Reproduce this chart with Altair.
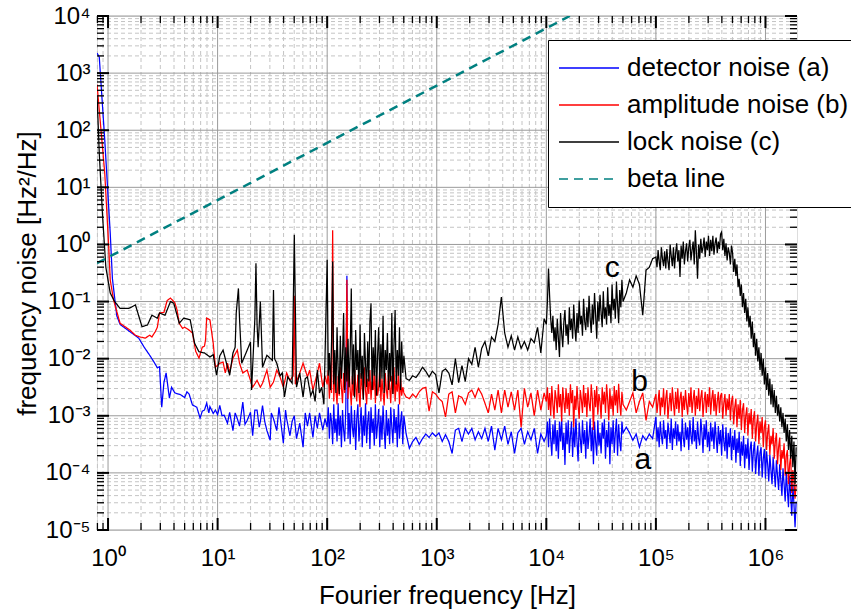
import json
import altair as alt
import pandas as pd

W, H = 700, 514
FONT = "Liberation Sans"

NAMES = ["detector noise (a)", "amplitude noise (b)", "lock noise (c)", "beta line"]
COLORS = ["#0000ff", "#ff0000", "#000000", "#008080"]
DASHES = [[1, 0], [1, 0], [1, 0], [9, 6]]

# ---------------- frequency grids (log10 of Hz) ----------------
grid_100_500 = [2.00, 2.01, 2.02, 2.03, 2.04, 2.05, 2.06, 2.07, 2.08, 2.09,
                2.10, 2.11, 2.12, 2.13, 2.14, 2.15, 2.16, 2.17, 2.18, 2.19,
                2.20, 2.21, 2.22, 2.23, 2.24, 2.25, 2.26, 2.27, 2.28, 2.29,
                2.30, 2.31, 2.32, 2.33, 2.34, 2.35, 2.36, 2.37, 2.38, 2.39,
                2.40, 2.41, 2.42, 2.43, 2.44, 2.45, 2.46, 2.47, 2.48, 2.49,
                2.50, 2.51, 2.52, 2.53, 2.54, 2.55, 2.56, 2.57, 2.58, 2.59,
                2.60, 2.61, 2.62, 2.63, 2.64, 2.65, 2.66, 2.67, 2.68, 2.69, 2.70]
grid_500_10k = [2.72, 2.75, 2.78, 2.81, 2.84, 2.87, 2.90, 2.93, 2.96, 2.99, 3.02, 3.05, 3.08, 3.11, 3.14, 3.17, 3.20, 3.23,
                3.26, 3.29, 3.32, 3.35, 3.38, 3.41, 3.44, 3.47, 3.50, 3.53, 3.56, 3.59, 3.62, 3.65, 3.68, 3.71, 3.74, 3.77,
                3.80, 3.83, 3.86, 3.89, 3.92, 3.95, 3.98]
grid_10k_50k = [4.00, 4.01, 4.02, 4.03, 4.04, 4.05, 4.06, 4.07, 4.08, 4.09,
                4.10, 4.11, 4.12, 4.13, 4.14, 4.15, 4.16, 4.17, 4.18, 4.19,
                4.20, 4.21, 4.22, 4.23, 4.24, 4.25, 4.26, 4.27, 4.28, 4.29,
                4.30, 4.31, 4.32, 4.33, 4.34, 4.35, 4.36, 4.37, 4.38, 4.39,
                4.40, 4.41, 4.42, 4.43, 4.44, 4.45, 4.46, 4.47, 4.48, 4.49,
                4.50, 4.51, 4.52, 4.53, 4.54, 4.55, 4.56, 4.57, 4.58, 4.59,
                4.60, 4.61, 4.62, 4.63, 4.64, 4.65, 4.66, 4.67, 4.68, 4.69, 4.70]
grid_50k_100k = [4.73, 4.76, 4.79, 4.82, 4.85, 4.88, 4.91, 4.94, 4.97]
grid_100k_2M = [5.00, 5.01, 5.02, 5.03, 5.04, 5.05, 5.06, 5.07, 5.08, 5.09,
                5.10, 5.11, 5.12, 5.13, 5.14, 5.15, 5.16, 5.17, 5.18, 5.19,
                5.20, 5.21, 5.22, 5.23, 5.24, 5.25, 5.26, 5.27, 5.28, 5.29,
                5.30, 5.31, 5.32, 5.33, 5.34, 5.35, 5.36, 5.37, 5.38, 5.39,
                5.40, 5.41, 5.42, 5.43, 5.44, 5.45, 5.46, 5.47, 5.48, 5.49,
                5.50, 5.51, 5.52, 5.53, 5.54, 5.55, 5.56, 5.57, 5.58, 5.59,
                5.60, 5.61, 5.62, 5.63, 5.64, 5.65, 5.66, 5.67, 5.68, 5.69,
                5.70, 5.71, 5.72, 5.73, 5.74, 5.75, 5.76, 5.77, 5.78, 5.79,
                5.80, 5.81, 5.82, 5.83, 5.84, 5.85, 5.86, 5.87, 5.88, 5.89,
                5.90, 5.91, 5.92, 5.93, 5.94, 5.95, 5.96, 5.97, 5.98, 5.99,
                6.00, 6.01, 6.02, 6.03, 6.04, 6.05, 6.06, 6.07, 6.08, 6.09,
                6.10, 6.11, 6.12, 6.13, 6.14, 6.15, 6.16, 6.17, 6.18, 6.19,
                6.20, 6.21, 6.22, 6.23, 6.24, 6.25, 6.26, 6.27, 6.28]

# ---------------- detector noise (a), log10 of Hz^2/Hz ----------------
a_low_f = [-0.10, -0.08, -0.03, 0.02, 0.04, 0.08, 0.11, 0.18, 0.28, 0.33, 0.38, 0.42, 0.45, 0.47, 0.49, 0.51, 0.53, 0.56,
           0.58, 0.61, 0.66, 0.70, 0.72, 0.74, 0.77, 0.81, 0.84, 0.86, 0.88, 0.90, 0.92, 0.93, 0.96, 0.98, 1.00, 1.02,
           1.04, 1.06, 1.09, 1.11, 1.14, 1.16, 1.18, 1.20, 1.23, 1.25, 1.27, 1.30, 1.32, 1.34, 1.36, 1.38, 1.39, 1.41,
           1.43, 1.45, 1.48, 1.49, 1.51, 1.54, 1.56, 1.57, 1.60, 1.62, 1.63, 1.66, 1.68, 1.70, 1.72, 1.75, 1.78, 1.80,
           1.82, 1.84, 1.87, 1.89, 1.91, 1.93, 1.96, 1.98]
a_low_v = [3.35, 3.28, 1.83, 0.20, -0.60, -1.25, -1.40, -1.50, -1.64, -1.80, -1.94, -2.06, -2.16, -2.14, -2.85, -2.42,
           -2.25, -2.69, -2.50, -2.60, -2.63, -2.68, -2.58, -2.62, -2.81, -2.85, -3.04, -2.92, -2.90, -2.78, -2.95, -2.84,
           -2.96, -2.90, -2.98, -2.82, -3.00, -2.99, -3.13, -2.94, -3.26, -2.95, -3.05, -3.18, -2.76, -3.15, -3.08, -2.94,
           -3.35, -2.90, -2.90, -3.20, -3.10, -2.82, -3.10, -3.26, -3.43, -2.95, -3.05, -3.26, -2.85, -3.00, -3.48, -2.90,
           -3.05, -3.35, -3.10, -3.00, -3.40, -3.13, -3.55, -2.95, -3.18, -2.95, -3.38, -3.00, -3.22, -2.95, -3.25, -3.05]
a_100_500 = [-3.20, -2.85, -3.40, -2.95, -3.10, -3.50, -2.80, -3.30, -3.05, -3.45,
             -2.78, -3.35, -3.00, -3.55, -2.90, -3.25, -3.45, -2.85, -0.55, -3.40,
             -2.95, -3.50, -2.82, -3.20, -3.38, -2.90, -3.60, -3.05, -2.80, -3.45,
             -3.15, -2.85, -3.55, -3.00, -3.35, -2.78, -3.48, -3.10, -2.92, -3.58,
             -2.85, -3.30, -3.05, -3.52, -2.80, -3.40, -3.15, -2.88, -3.55, -3.00,
             -3.42, -2.82, -3.25, -3.58, -2.90, -3.35, -3.05, -3.50, -2.85, -3.20,
             -3.48, -2.88, -3.30, -3.02, -3.55, -2.80, -3.40, -3.10, -2.92, -3.50, -3.00]
a_500_10k = [-3.31, -3.57, -3.45, -3.38, -3.50, -3.40, -3.32, -3.38, -3.30, -3.36, -3.30, -3.45, -3.33, -3.45, -3.66,
             -3.25, -3.22, -3.45, -3.22, -3.32, -3.22, -3.42, -3.28, -3.40, -3.22, -3.45, -3.18, -3.60, -3.22, -3.42,
             -3.18, -3.50, -3.28, -3.66, -3.30, -3.22, -3.50, -3.28, -3.42, -3.22, -3.66, -3.32, -3.45]
a_10k_50k = [-3.35, -3.10, -3.55, -3.05, -3.40, -3.70, -3.15, -3.50, -3.08, -3.62,
             -3.25, -3.75, -3.10, -3.45, -3.05, -3.60, -3.30, -3.86, -3.12, -3.50,
             -3.08, -3.65, -3.35, -3.10, -3.72, -3.20, -3.55, -3.05, -3.45, -3.80,
             -3.12, -3.40, -3.65, -3.08, -3.50, -3.25, -3.75, -3.10, -3.58, -3.35,
             -3.05, -3.62, -3.20, -3.85, -3.10, -3.45, -3.70, -3.08, -3.52, -3.30,
             -3.66, -3.12, -3.40, -3.06, -3.75, -3.25, -3.55, -3.10, -3.85, -3.20,
             -3.50, -3.08, -3.65, -3.30, -3.05, -3.70, -3.15, -3.45, -3.62, -3.10, -3.30]
a_50k_100k = [-3.20, -3.30, -3.43, -3.32, -3.55, -3.35, -3.43, -3.32, -3.40]
a_100k_2M = [-3.02, -3.45, -3.20, -3.55, -3.10, -3.35, -3.50, -3.08, -3.40, -3.25,
             -3.58, -3.12, -3.30, -3.48, -3.05, -3.60, -3.22, -3.40, -3.10, -3.52,
             -3.15, -3.45, -3.28, -3.62, -3.05, -3.38, -3.55, -3.12, -3.42, -3.20,
             -3.60, -3.08, -3.35, -3.50, -3.02, -3.45, -3.25, -3.58, -3.10, -3.40,
             -3.52, -3.05, -3.30, -3.65, -3.15, -3.42, -3.08, -3.55, -3.28, -3.62,
             -3.12, -3.45, -3.20, -3.58, -3.10, -3.38, -3.65, -3.18, -3.50, -3.25,
             -3.70, -3.15, -3.45, -3.62, -3.20, -3.75, -3.30, -3.55, -3.22, -3.78,
             -3.35, -3.60, -3.25, -3.82, -3.40, -3.65, -3.28, -3.88, -3.45, -3.70,
             -3.35, -3.92, -3.50, -3.75, -3.40, -3.95, -3.58, -3.45, -3.98, -3.62,
             -3.45, -4.02, -3.70, -3.52, -4.05, -3.65, -3.55, -4.08, -3.75, -3.58,
             -4.10, -3.62, -3.85, -4.15, -3.68, -3.95, -4.20, -3.72, -4.00, -4.25,
             -3.78, -4.05, -4.30, -3.85, -4.12, -4.40, -3.92, -4.20, -4.50, -3.98,
             -4.30, -4.60, -4.05, -4.40, -4.75, -4.20, -4.55, -4.95, -4.50]

# ---------------- amplitude noise (b) ----------------
b_low_f = [-0.10, -0.08, -0.03, 0.005, 0.02, 0.05, 0.11, 0.20, 0.25, 0.29, 0.34, 0.38, 0.40, 0.43, 0.45, 0.47, 0.51,
           0.54, 0.57, 0.61, 0.63, 0.65, 0.68, 0.70, 0.74, 0.77, 0.80, 0.83, 0.86, 0.88, 0.89, 0.90, 0.93, 0.96, 0.98,
           1.02, 1.05, 1.07, 1.09, 1.11, 1.14, 1.18, 1.20, 1.23, 1.27, 1.30, 1.32, 1.36, 1.39, 1.41, 1.45, 1.48, 1.51,
           1.54, 1.57, 1.60, 1.63, 1.66, 1.69, 1.70, 1.71, 1.75, 1.78, 1.82, 1.84, 1.87, 1.91, 1.93, 1.96, 1.98]
b_low_v = [2.80, 2.35, 1.25, 0.00, -0.62, -0.97, -1.38, -1.50, -1.59, -1.62, -1.64, -1.59, -1.62, -1.53, -1.45, -1.20,
           -1.19, -0.98, -0.94, -1.02, -1.15, -1.38, -1.47, -1.45, -1.50, -1.55, -1.87, -1.99, -1.80, -1.78, -1.67, -1.29,
           -1.32, -1.73, -2.15, -2.08, -2.06, -2.25, -2.08, -2.24, -1.99, -1.85, -2.08, -2.25, -2.20, -2.38, -2.50, -2.38,
           -2.50, -2.43, -2.20, -2.50, -2.41, -2.20, -2.32, -2.50, -2.25, -2.38, -2.30, -0.90, -2.45, -2.25, -2.08, -2.32,
           -2.20, -2.55, -2.25, -2.08, -2.50, -2.30]
b_100_500 = [-2.45, -2.20, -2.70, -2.35, -2.60, 0.25, -2.75, -2.25, -2.55, -2.80,
             -2.30, -2.65, -2.15, -2.50, -2.78, -2.25, -2.60, -2.40, -0.62, -2.70,
             -2.20, -2.55, -2.82, -2.30, -2.65, -2.18, -2.45, -2.75, -2.28, -2.60,
             -2.85, -2.25, -2.50, -2.70, -2.15, -2.55, -2.80, -2.35, -2.62, -2.20,
             -2.72, -2.40, -2.55, -2.22, -2.78, -2.30, -2.65, -2.50, -2.18, -2.75,
             -2.35, -2.60, -2.82, -2.25, -2.55, -2.70, -2.20, -2.48, -2.78, -2.30,
             -2.62, -2.15, -2.75, -2.40, -2.58, -2.22, -2.80, -2.35, -2.65, -2.50, -2.60]
b_500_10k = [-2.67, -2.70, -2.62, -2.68, -2.58, -2.52, -2.50, -2.92, -2.58, -2.62, -2.70, -2.75, -3.02, -2.62, -2.58,
             -2.95, -2.65, -2.68, -2.80, -2.60, -2.55, -2.68, -2.52, -2.62, -2.78, -2.95, -2.62, -2.90, -2.55, -2.95,
             -2.55, -2.85, -2.58, -2.90, -2.55, -3.20, -2.52, -2.85, -2.60, -3.00, -2.55, -2.90, -2.60]
b_10k_50k = [-2.75, -2.50, -2.90, -2.60, -3.00, -2.48, -2.80, -3.05, -2.55, -2.70,
             -2.95, -2.45, -2.85, -2.62, -3.10, -2.50, -2.75, -2.95, -2.52, -2.88,
             -2.60, -3.00, -2.45, -2.78, -2.55, -3.20, -2.65, -2.90, -2.48, -2.82,
             -3.05, -2.55, -2.72, -2.95, -2.46, -2.85, -2.60, -3.02, -2.50, -2.78,
             -2.92, -2.45, -2.70, -3.25, -2.55, -2.85, -2.48, -2.98, -2.62, -2.75,
             -3.05, -2.50, -2.80, -2.58, -2.95, -2.45, -2.72, -3.08, -2.52, -2.88,
             -2.65, -3.00, -2.48, -2.82, -2.55, -2.95, -2.44, -2.78, -3.00, -2.58, -2.80]
b_50k_100k = [-2.90, -2.75, -2.60, -2.95, -2.75, -2.60, -3.08, -2.75, -2.85]
b_100k_2M = [-2.62, -2.95, -2.75, -2.55, -3.00, -2.68, -2.85, -2.52, -2.98, -2.70,
             -2.55, -3.05, -2.80, -2.60, -2.92, -2.50, -2.78, -3.00, -2.58, -2.88,
             -2.52, -2.95, -2.70, -2.58, -3.02, -2.65, -2.90, -2.55, -2.80, -2.98,
             -2.60, -2.85, -2.50, -2.95, -2.72, -2.55, -3.00, -2.65, -2.88, -2.52,
             -2.92, -2.68, -2.55, -3.02, -2.75, -2.58, -2.95, -2.62, -2.85, -2.50,
             -2.98, -2.70, -2.55, -2.92, -2.62, -3.00, -2.75, -2.58, -2.95, -2.65,
             -2.60, -3.05, -2.78, -2.62, -3.00, -2.70, -2.90, -2.62, -3.08, -2.75,
             -2.65, -3.15, -2.85, -2.70, -3.20, -2.80, -3.05, -2.72, -3.25, -2.90,
             -2.78, -3.30, -3.00, -2.85, -3.35, -2.95, -3.15, -2.88, -3.40, -3.05,
             -2.92, -3.45, -3.15, -2.98, -3.50, -3.10, -3.30, -3.02, -3.55, -3.20,
             -3.08, -3.60, -3.30, -3.15, -3.68, -3.35, -3.50, -3.22, -3.75, -3.45,
             -3.30, -3.85, -3.55, -3.38, -3.95, -3.60, -3.75, -3.48, -4.05, -3.70,
             -3.60, -4.20, -3.85, -3.70, -4.35, -3.95, -4.15, -4.45, -4.20]

# ---------------- lock noise (c) ----------------
c_low_f = [-0.10, -0.08, -0.05, -0.02, 0.02, 0.06, 0.11, 0.19, 0.25, 0.31, 0.36, 0.40, 0.45, 0.47, 0.52, 0.57, 0.60,
           0.65, 0.69, 0.75, 0.79, 0.83, 0.88, 0.93, 0.96, 0.99, 1.02, 1.05, 1.09, 1.11, 1.14, 1.16, 1.17, 1.19, 1.20,
           1.22, 1.27, 1.30, 1.31, 1.34, 1.35, 1.36, 1.37, 1.39, 1.41, 1.45, 1.50, 1.51, 1.52, 1.54, 1.57, 1.59, 1.61,
           1.64, 1.68, 1.70, 1.72, 1.75, 1.78, 1.80, 1.82, 1.85, 1.87, 1.89, 1.91, 1.93, 1.95, 1.97, 1.98]
c_low_v = [2.60, 1.60, 0.50, -0.40, -0.85, -1.00, -1.12, -1.12, -1.06, -1.44, -1.41, -1.24, -1.29, -1.20, -1.24, -1.00,
           -1.03, -1.38, -1.29, -1.32, -1.73, -1.88, -1.90, -1.97, -1.93, -2.29, -1.95, -1.85, -2.15, -2.29, -1.90, -1.80,
           -1.20, -0.77, -1.30, -2.08, -1.85, -1.71, -2.55, -1.30, -0.33, -1.40, -1.80, -1.00, -2.15, -1.94, -2.03, -0.80,
           -2.00, -2.08, -2.30, -2.25, -2.67, -2.32, -2.43, 0.17, -2.50, -2.25, -2.67, -2.35, -2.32, -2.65, -2.55, -2.75,
           -2.20, -2.60, -2.50, -2.80, -2.00]
c_100_500 = [-0.27, -2.30, -1.90, -2.55, -1.70, -0.30, -2.45, -1.85, -2.60, -1.45,
             -2.20, -2.62, -1.60, -2.35, -1.95, -1.20, -2.55, -1.80, -2.40, -1.65,
             -2.50, -1.90, -0.77, -2.45, -1.75, -2.68, -1.50, -2.20, -1.85, -2.60,
             -1.40, -2.35, -1.95, -2.72, -1.55, -2.10, -2.50, -1.70, -2.40, -1.35,
             -1.03, -2.55, -1.80, -2.30, -1.50, -2.65, -1.95, -1.45, -2.50, -1.75,
             -2.35, -1.25, -2.60, -1.85, -2.20, -1.55, -2.55, -1.90, -2.40, -1.20,
             -2.62, -1.75, -1.15, -2.45, -1.85, -2.30, -1.45, -2.55, -1.70, -2.25, -1.95]
c_500_10k = [-2.35, -2.38, -2.30, -2.33, -2.25, -2.15, -2.22, -2.32, -2.22, -2.28, -2.60, -2.22, -2.18, -2.25, -2.46,
             -2.00, -2.42, -2.12, -2.40, -2.00, -2.10, -1.80, -2.15, -1.82, -1.70, -1.95, -1.62, -1.70, -1.40, -0.92,
             -1.55, -1.80, -1.60, -1.85, -1.62, -1.82, -1.70, -1.85, -1.65, -1.72, -1.45, -1.90, -1.30]
c_10k_50k = [-1.40, -1.00, -0.42, -0.90, -1.30, -1.55, -1.25, -1.70, -1.45, -1.85,
             -1.30, -1.65, -1.97, -1.20, -1.55, -1.80, -1.35, -1.15, -1.60, -1.40,
             -1.75, -1.10, -1.50, -1.30, -1.65, -1.05, -1.45, -1.70, -1.20, -1.55,
             -0.98, -1.40, -1.25, -1.60, -0.95, -1.35, -1.50, -1.10, -1.45, -0.90,
             -1.30, -1.55, -1.05, -1.40, -0.85, -1.25, -1.65, -1.00, -1.35, -0.88,
             -1.20, -1.45, -0.82, -1.30, -1.10, -1.40, -0.75, -1.25, -1.05, -1.38,
             -0.70, -1.15, -0.95, -1.30, -0.65, -1.05, -1.38, -0.80, -1.10, -0.62, -1.00]
c_50k_100k = [-0.85, -0.62, -0.75, -0.55, -0.70, -1.24, -0.45, -0.40, -0.25]
c_100k_2M = [-0.22, -0.40, -0.10, -0.30, -0.45, -0.05, -0.25, -0.38, -0.12, -0.42,
             -0.08, -0.30, -0.45, 0.00, -0.20, -0.38, -0.05, -0.42, -0.15, 0.02,
             -0.30, -0.10, -0.57, -0.02, -0.25, 0.05, -0.35, -0.12, 0.02, -0.30,
             -0.05, 0.08, -0.28, -0.10, 0.05, -0.35, 0.25, -0.15, -0.60, 0.00,
             -0.25, 0.10, -0.15, -0.05, 0.12, -0.22, 0.05, -0.10, 0.15, -0.20,
             0.08, -0.12, 0.15, -0.18, 0.02, 0.12, -0.15, 0.05, -0.08, 0.18,
             0.22, -0.10, 0.10, -0.20, 0.02, -0.28, -0.05, -0.15, -0.35, -0.02,
             -0.15, -0.48, -0.25, -0.55, -0.35, -0.75, -0.60, -0.90, -0.70, -1.10,
             -0.85, -1.20, -0.95, -1.35, -1.10, -1.45, -1.25, -1.65, -1.35, -1.80,
             -1.55, -1.95, -1.65, -2.05, -1.80, -2.20, -1.90, -2.30, -2.00, -2.45,
             -2.15, -2.55, -2.25, -2.65, -2.35, -2.80, -2.45, -2.85, -2.55, -2.95,
             -2.65, -3.00, -2.80, -3.10, -2.85, -3.20, -2.95, -3.30, -3.05, -3.45,
             -3.15, -3.60, -3.25, -3.75, -3.35, -3.90, -3.45, -4.20, -3.55]

# ---------------- beta line (two end points, Hz and Hz^2/Hz) ----------------
beta_f = [0.793, 16400.0]
beta_v = [0.47, 10000.0]

# ---------------- curve labels ----------------
ann_text = ["c", "b", "a"]
ann_f = [4.0e4, 7.1e4, 7.6e4]
ann_v = [0.39, 0.0039, 1.7e-4]

# ---------------- axis ticks / labels ----------------
x_major = [1, 10, 100, 1e3, 1e4, 1e5, 1e6]
x_tick_labels = ["10⁰", "10¹", "10²", "10³", "10⁴", "10⁵", "10⁶"]
x_minor = [0.8, 0.9] + [m * 10 ** d for d in range(0, 6) for m in range(2, 10)]
y_major = [1e-5, 1e-4, 1e-3, 1e-2, 1e-1, 1, 10, 100, 1e3, 1e4]
y_tick_labels = ["10⁻⁵", "10⁻⁴", "10⁻³", "10⁻²", "10⁻¹", "10⁰", "10¹", "10²", "10³", "10⁴"]
y_minor = [m * 10.0 ** e for e in range(-5, 4) for m in range(2, 10)]


def build(name, parts):
    rows = []
    for fx, vy in parts:
        assert len(fx) == len(vy), (name, len(fx), len(vy))
        for a, b in zip(fx, vy):
            rows.append({"f": 10 ** a, "v": 10 ** b, "series": name})
    return pd.DataFrame(rows)


df_a = build(NAMES[0], [(a_low_f, a_low_v), (grid_100_500, a_100_500), (grid_500_10k, a_500_10k),
                        (grid_10k_50k, a_10k_50k), (grid_50k_100k, a_50k_100k), (grid_100k_2M, a_100k_2M)])
df_b = build(NAMES[1], [(b_low_f, b_low_v), (grid_100_500, b_100_500), (grid_500_10k, b_500_10k),
                        (grid_10k_50k, b_10k_50k), (grid_50k_100k, b_50k_100k), (grid_100k_2M, b_100k_2M)])
df_c = build(NAMES[2], [(c_low_f, c_low_v), (grid_100_500, c_100_500), (grid_500_10k, c_500_10k),
                        (grid_10k_50k, c_10k_50k), (grid_50k_100k, c_50k_100k), (grid_100k_2M, c_100k_2M)])
df_beta = pd.DataFrame({"f": beta_f, "v": beta_v, "series": NAMES[3]})
df_ann = pd.DataFrame({"f": ann_f, "v": ann_v, "t": ann_text})

xscale = alt.Scale(type="log", domain=[0.793, 1.94e6], nice=False)
yscale = alt.Scale(type="log", domain=[1e-5, 1e4], nice=False)

legend = alt.Legend(
    title=None, orient="none", legendX=451, legendY=24,
    fillColor="white", strokeColor="black", padding=15, rowPadding=11,
    labelFont=FONT, labelFontSize=26, labelColor="black", labelLimit=400,
    symbolType="M-3,0H3", symbolSize=400, symbolOffset=13, labelOffset=25,
    symbolStrokeWidth=1.6,
)
color = alt.Color("series:N", scale=alt.Scale(domain=NAMES, range=COLORS), legend=legend)
dash = alt.StrokeDash("series:N", scale=alt.Scale(domain=NAMES, range=DASHES), legend=legend)

x_axis = alt.Axis(
    values=x_major, labelExpr=f"{json.dumps(x_tick_labels, ensure_ascii=False)}[round(log(datum.value)/LN10)]",
    grid=False, ticks=False, domain=False, labelOverlap=False, labelFlush=False,
    labelFont=FONT, labelFontSize=24, labelColor="black", labelPadding=16,
    title="Fourier frequency [Hz]", titleFont=FONT, titleFontSize=26, titleFontWeight="normal",
    titleColor="black", titlePadding=12,
)
y_axis = alt.Axis(
    values=y_major, labelExpr=f"{json.dumps(y_tick_labels, ensure_ascii=False)}[round(log(datum.value)/LN10)+5]",
    grid=False, ticks=False, domain=False, labelOverlap=False, labelFlush=False,
    labelFont=FONT, labelFontSize=24, labelColor="black", labelPadding=7,
    title="frequency noise [Hz²/Hz]", titleFont=FONT, titleFontSize=26, titleFontWeight="normal",
    titleColor="black", titlePadding=4,
)

X = alt.X("f:Q", scale=xscale, axis=x_axis)
Y = alt.Y("v:Q", scale=yscale, axis=y_axis)


def xgrid(vals, **kw):
    return alt.Chart(pd.DataFrame({"f": vals})).mark_rule(**kw).encode(x=X)


def ygrid(vals, **kw):
    return alt.Chart(pd.DataFrame({"v": vals})).mark_rule(**kw).encode(y=Y)


minor_style = dict(color="#c4c4c4", strokeWidth=1, strokeDash=[4, 3])
major_style = dict(color="#9a9a9a", strokeWidth=1)

grids = [xgrid(x_minor, **minor_style), ygrid(y_minor, **minor_style),
         xgrid(x_major, **major_style), ygrid(y_major, **major_style)]


def series_layer(df, width):
    return alt.Chart(df).mark_line(clip=True, strokeWidth=width).encode(
        x=X, y=Y, color=color, strokeDash=dash, order=alt.Order("f:Q"),
    )


lines = [series_layer(df_a, 1.25), series_layer(df_b, 1.25), series_layer(df_c, 1.25), series_layer(df_beta, 2.5)]


def ticks_x(vals, length, sw):
    d = pd.DataFrame({"f": vals})
    bottom = alt.Chart(d).mark_rule(color="black", strokeWidth=sw).encode(
        x=X, y=alt.value(H), y2=alt.value(H - length))
    top = alt.Chart(d).mark_rule(color="black", strokeWidth=sw).encode(
        x=X, y=alt.value(0), y2=alt.value(length))
    return [bottom, top]


def ticks_y(vals, length, sw):
    d = pd.DataFrame({"v": vals})
    left = alt.Chart(d).mark_rule(color="black", strokeWidth=sw).encode(
        y=Y, x=alt.value(0), x2=alt.value(length))
    right = alt.Chart(d).mark_rule(color="black", strokeWidth=sw).encode(
        y=Y, x=alt.value(W), x2=alt.value(W - length))
    return [left, right]


ticks = ticks_x(x_minor, 7, 1.3) + ticks_x(x_major, 12, 2) + ticks_y(y_minor, 7, 1.3) + ticks_y(y_major, 12, 2)

labels = alt.Chart(df_ann).mark_text(font=FONT, fontSize=30, color="black", baseline="middle", align="center").encode(
    x=X, y=Y, text="t:N")

chart = alt.layer(*grids, *lines, *ticks, labels).properties(
    width=W, height=H,
    autosize=alt.AutoSizeParams(type="none"),
    padding={"left": 97, "top": 16, "right": 54, "bottom": 82},
).configure_view(stroke="black", strokeWidth=2).configure(background="white")

chart.save("out.html", embed_options={"renderer": "svg", "actions": False})
